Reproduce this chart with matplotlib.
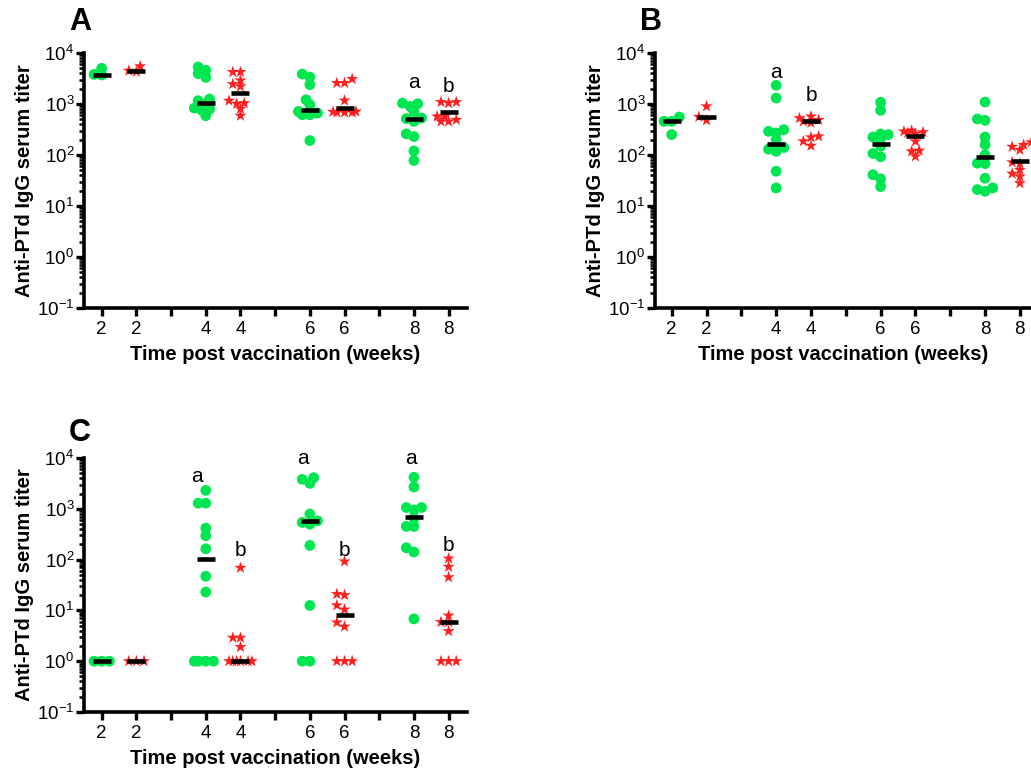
import numpy as np
import matplotlib
matplotlib.use("Agg")
import matplotlib.pyplot as plt
from matplotlib.ticker import LogLocator, FixedLocator, NullFormatter

plt.rcParams['font.family'] = ['Liberation Sans', 'DejaVu Sans']
plt.rcParams['mathtext.fontset'] = 'custom'
plt.rcParams['mathtext.rm'] = 'Liberation Sans'
plt.rcParams['mathtext.default'] = 'regular'
plt.rcParams['axes.unicode_minus'] = False

# x slots: week 2, 4, 6, 8 (green = first column, red = second column)
xticklabels = ['2', '2', '', '4', '4', '', '6', '6', '', '8', '8']
green_x = [1, 4, 7, 10]
red_x = [2, 5, 8, 11]

# panel A
A_green = [[5000, 3700, 3800],
           [5300, 4570, 3930, 3330, 1250, 1160, 1010, 830, 795, 750, 590],
           [3860, 3370, 2390, 1210, 966, 714, 663, 615, 615, 192],
           [1040, 1010, 895, 714, 530, 517, 455, 260, 230, 120, 78]]
A_green_med = [3750, 1070, 760, 515]
A_red = [[5500, 4300, 4500],
         [4230, 4230, 2900, 2460, 2210, 1160, 1040, 1010, 805, 590],
         [3090, 2580, 2580, 1170, 714, 683, 683, 700, 683],
         [1090, 1040, 1090, 570, 570, 490, 455, 455]]
A_red_med = [4500, 1640, 850, 690]

# panel B
B_green = [[556, 457, 457, 251],
           [2320, 1310, 314, 291, 270, 200, 148, 140, 130, 118, 48, 22.6],
           [1080, 752, 258, 251, 225, 209, 148, 107, 92, 41, 34, 24],
           [1090, 508, 478, 225, 159, 100, 69, 68, 35, 22.6, 19.4, 21]]
B_green_med = [457, 164, 164, 90]
B_red = [[900, 480, 560],
         [570, 527, 488, 457, 430, 232, 222, 186, 152],
         [300, 290, 280, 270, 260, 185, 122, 118, 94],
         [178, 126, 158, 145, 72, 68, 51, 43, 38, 28]]
B_red_med = [556, 457, 240, 75]

# panel C
C_green = [[1, 1, 1],
           [2300, 1290, 1290, 417, 295, 163, 47, 23, 1, 1, 1, 1],
           [4100, 3800, 3170, 790, 580, 540, 500, 190, 12.5, 1, 1],
           [4180, 2680, 1060, 1060, 950, 650, 450, 450, 171, 141, 6.8]]
C_green_med = [1, 104, 575, 680]
C_red = [[1, 1, 1],
         [69, 2.9, 2.9, 1.9, 1, 1, 1, 1, 1, 1],
         [92, 20, 21, 12.6, 10.4, 5.8, 4.8, 1, 1, 1],
         [105, 72, 45, 7.9, 5.9, 5.9, 3.9, 1, 1, 1]]
C_red_med = [1, 1, 8.3, 5.9]

A_letters = [('a', 10, 2700), ('b', 11, 2250)]
B_letters = [('a', 4, 4200), ('b', 5, 1500)]
C_letters = [('a', 3.75, 4300), ('b', 5, 150), ('a', 6.8, 10000), ('b', 8, 150),
             ('a', 9.9, 10000), ('b', 11, 190)]

GREEN = '#00e650'
RED = '#ff1f1f'


def swarm(vals, dx=0.22, dy=0.13):
    # simple beeswarm: put each point as close to the centre as it fits,
    # kept inside a narrow column (GraphPad style, overlaps allowed)
    lv = np.log10(vals)
    offs = np.zeros(len(vals))
    placed = []
    cands = sorted([k * dx * 0.5 for k in range(-3, 4)], key=lambda c: (abs(c), c))
    for i in np.argsort(lv):
        best, best_d = 0.0, -1
        for c in cands:
            d = min([((c - ox) / dx) ** 2 + ((lv[i] - oy) / dy) ** 2 for ox, oy in placed] + [9])
            if d >= 0.75:
                best = c
                break
            if d > best_d:
                best, best_d = c, d
        offs[i] = best
        placed.append((best, lv[i]))
    return offs


def panel(rect, letter, green, green_med, red, red_med, letters, xlim=(0.49, 11.53), ly=1.12):
    ax = fig.add_axes(rect)
    for xs, groups, meds, col, mk, ms in [(green_x, green, green_med, GREEN, 'o', 60),
                                           (red_x, red, red_med, RED, '*', 85)]:
        for x, vals, med in zip(xs, groups, meds):
            ax.scatter(x + swarm(vals), vals, s=ms, marker=mk, color=col,
                       edgecolors='none', zorder=2, clip_on=False)
            ax.plot([x - 0.26, x + 0.26], [med, med], color='black', lw=3.3,
                    solid_capstyle='butt', zorder=3)
    for txt, x, y in letters:
        ax.text(x, y, txt, fontsize=15, ha='center', va='center', clip_on=False)
    ax.set_yscale('log')
    ax.set_ylim(0.1, 1e4)
    ax.set_xlim(*xlim)
    ax.yaxis.set_major_locator(LogLocator(base=10, numticks=10))
    ax.yaxis.set_minor_locator(LogLocator(base=10, subs=np.arange(2, 10), numticks=10))
    ax.yaxis.set_minor_formatter(NullFormatter())
    ax.xaxis.set_major_locator(FixedLocator(range(1, 12)))
    ax.set_xticklabels(xticklabels)
    for s in ['top', 'right']:
        ax.spines[s].set_visible(False)
    for s in ['left', 'bottom']:
        ax.spines[s].set_linewidth(2.6)
    ax.tick_params(which='major', length=6, width=2.4, labelsize=13.5, direction='out')
    ax.tick_params(which='minor', length=3.5, width=1.8, direction='out')
    ax.tick_params(axis='y', which='major', pad=1)
    ax.set_ylabel('Anti-PTd IgG serum titer', fontsize=14.5, fontweight='bold', labelpad=2)
    ax.set_xlabel('Time post vaccination (weeks)', fontsize=14.5, fontweight='bold', labelpad=5)
    ax.text(-0.01, ly, letter, transform=ax.transAxes, fontsize=22,
            fontweight='bold', ha='center', va='center')
    return ax


W, H = 1031, 782
fig = plt.figure(figsize=(W / 100, H / 100), dpi=100)

panel([84 / W, 1 - 308 / H, 383 / W, 255 / H], 'A', A_green, A_green_med, A_red, A_red_med, A_letters)
panel([655 / W, 1 - 308 / H, 376 / W, 255 / H], 'B', B_green, B_green_med, B_red, B_red_med, B_letters,
      xlim=(0.52, 11.32))
panel([84 / W, 1 - 712 / H, 383 / W, 254 / H], 'C', C_green, C_green_med, C_red, C_red_med, C_letters,
      ly=1.10)

fig.savefig('out.png', dpi=100)
